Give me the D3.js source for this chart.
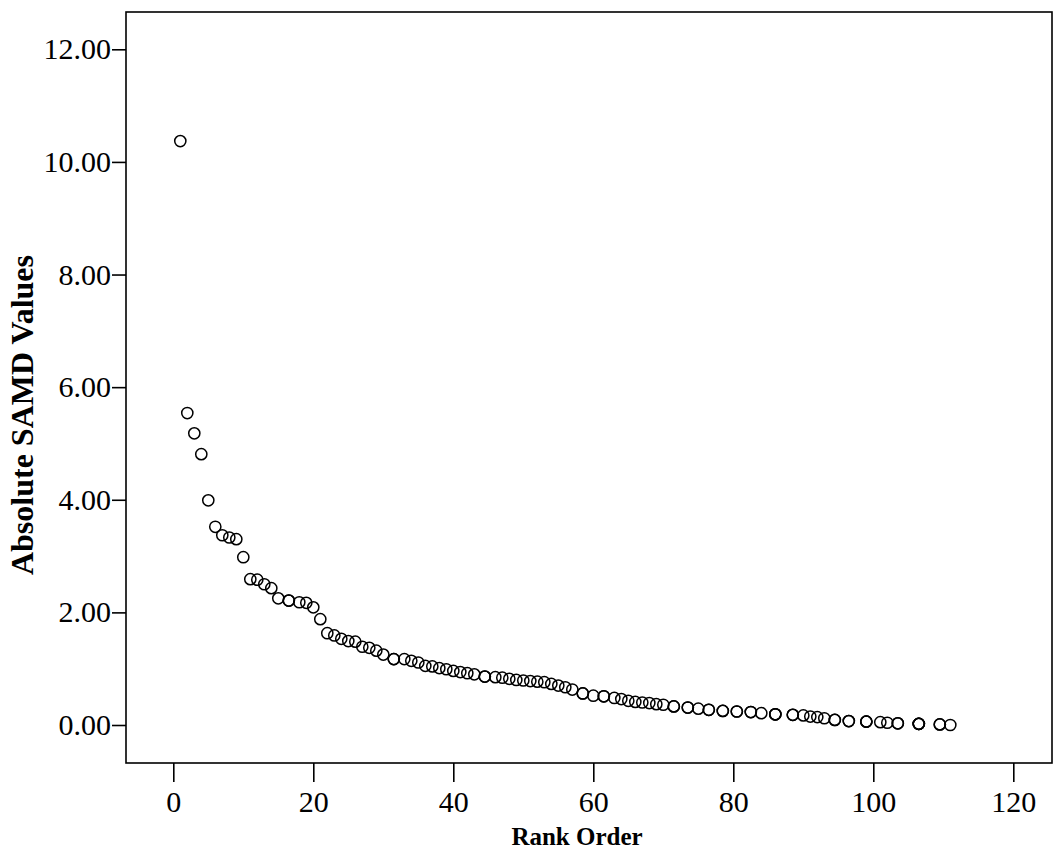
<!DOCTYPE html>
<html>
<head>
<meta charset="utf-8">
<script src="https://cdn.jsdelivr.net/npm/d3@7"></script>
<style>
  body { margin: 0; background: white; }
  svg { display: block; }
  text { font-family: "Liberation Serif", "Times New Roman", serif; fill: black; }
</style>
</head>
<body>
<svg></svg>
<script>
// rank order (ties get mean rank, so some cases share a position)
var ranks = [
  1, 2, 3, 4, 5, 6, 7, 8, 9, 10,
  11, 12, 13, 14, 15, 16.5, 16.5, 18, 19, 20,
  21, 22, 23, 24, 25, 26, 27, 28, 29, 30,
  31.5, 31.5, 33, 34, 35, 36, 37, 38, 39, 40,
  41, 42, 43, 44.5, 44.5, 46, 47, 48, 49, 50,
  51, 52, 53, 54, 55, 56, 57, 58.5, 58.5, 60,
  61.5, 61.5, 63, 64, 65, 66, 67, 68, 69, 70,
  71.5, 71.5, 73.5, 73.5, 75, 76.5, 76.5, 78.5, 78.5, 80.5,
  80.5, 82.5, 82.5, 84, 86, 86, 86, 88.5, 88.5, 90,
  91, 92, 93, 94.5, 94.5, 96.5, 96.5, 99, 99, 99,
  101, 102, 103.5, 103.5, 106.5, 106.5, 106.5, 106.5, 109.5, 109.5,
  111
];

// absolute SAMD value of each case
var samd = [
  10.37, 5.54, 5.18, 4.81, 3.99, 3.52, 3.37, 3.33, 3.30, 2.98,
  2.59, 2.58, 2.50, 2.43, 2.25, 2.21, 2.21, 2.18, 2.17, 2.09,
  1.88, 1.63, 1.59, 1.53, 1.49, 1.48, 1.39, 1.37, 1.32, 1.25,
  1.17, 1.17, 1.17, 1.14, 1.11, 1.05, 1.04, 1.01, 0.99, 0.96,
  0.94, 0.92, 0.90, 0.86, 0.86, 0.85, 0.84, 0.82, 0.80, 0.79,
  0.78, 0.77, 0.76, 0.73, 0.70, 0.67, 0.63, 0.56, 0.56, 0.52,
  0.51, 0.51, 0.48, 0.46, 0.43, 0.41, 0.40, 0.39, 0.37, 0.36,
  0.33, 0.33, 0.31, 0.31, 0.29, 0.27, 0.27, 0.25, 0.25, 0.24,
  0.24, 0.23, 0.23, 0.21, 0.19, 0.19, 0.19, 0.18, 0.18, 0.17,
  0.15, 0.14, 0.12, 0.09, 0.09, 0.07, 0.07, 0.06, 0.06, 0.06,
  0.05, 0.04, 0.03, 0.03, 0.02, 0.02, 0.02, 0.02, 0.01, 0.01,
  0.00
];

var xTicks = [0, 20, 40, 60, 80, 100, 120];
var yTicks = [0, 2, 4, 6, 8, 10, 12];

var width = 1053, height = 857;

// plot frame
var frame = {left: 126, top: 12, right: 1052, bottom: 763};

var svg = d3.select("svg")
  .attr("width", width)
  .attr("height", height);

var x = d3.scaleLinear()
  .domain([0, 120])
  .range([173.3, 1013.3]);

var y = d3.scaleLinear()
  .domain([0, 12])
  .range([725, 49.3]);

svg.append("rect")
  .attr("x", frame.left)
  .attr("y", frame.top)
  .attr("width", frame.right - frame.left)
  .attr("height", frame.bottom - frame.top)
  .attr("fill", "white")
  .attr("stroke", "black")
  .attr("stroke-width", 1.6);

// y axis
var yAxis = svg.append("g")
  .attr("transform", "translate(" + frame.left + ",0)")
  .call(d3.axisLeft(y)
    .tickValues(yTicks)
    .tickSize(14)
    .tickPadding(1)
    .tickFormat(d3.format(".2f")));

// x axis
var xAxis = svg.append("g")
  .attr("transform", "translate(0," + frame.bottom + ")")
  .call(d3.axisBottom(x)
    .tickValues(xTicks)
    .tickSize(19)
    .tickPadding(9)
    .tickFormat(d3.format("d")));

[xAxis, yAxis].forEach(function(ax) {
  ax.select(".domain").remove();
  ax.selectAll(".tick line")
    .attr("stroke", "black")
    .attr("stroke-width", 1.6);
  ax.selectAll(".tick text")
    .style("font-family", "'Liberation Serif', 'Times New Roman', serif")
    .style("font-size", "30px")
    .attr("fill", "black");
});

// points
svg.append("g")
  .selectAll("circle")
  .data(d3.range(ranks.length))
  .enter().append("circle")
  .attr("cx", function(i) { return x(ranks[i]); })
  .attr("cy", function(i) { return y(samd[i]); })
  .attr("r", 5.6)
  .attr("fill", "none")
  .attr("stroke", "black")
  .attr("stroke-width", 1.5);

// axis titles
svg.append("text")
  .attr("x", 577)
  .attr("y", 845)
  .attr("text-anchor", "middle")
  .style("font-size", "25px")
  .style("font-weight", "bold")
  .text("Rank Order");

svg.append("text")
  .attr("transform", "translate(33,415) rotate(-90)")
  .attr("text-anchor", "middle")
  .style("font-size", "32px")
  .style("font-weight", "bold")
  .text("Absolute SAMD Values");
</script>
</body>
</html>
